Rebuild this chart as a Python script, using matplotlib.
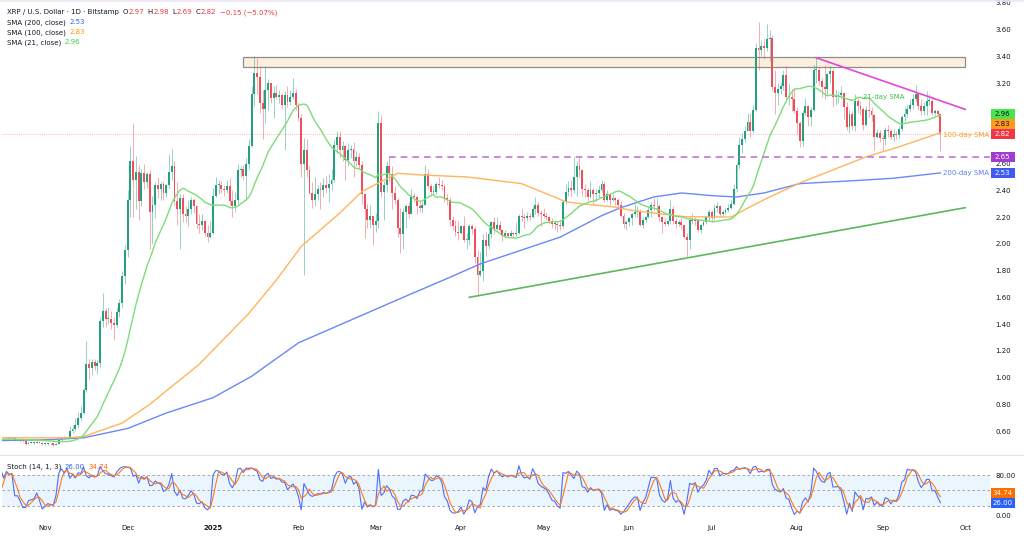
import numpy as np
import pandas as pd
import matplotlib
matplotlib.use("Agg")
import matplotlib.pyplot as plt
import matplotlib.dates as mdates
from matplotlib.patches import Rectangle
from matplotlib.lines import Line2D

plt.rcParams['font.family'] = ['DejaVu Sans']

W, H = 1024, 537

# ---------------- DATA (daily XRP/USD, Bitstamp) ----------------
first_open = 0.615
close_2024_10 = [0.610, 0.525, 0.520, 0.532, 0.536, 0.537, 0.530, 0.532, 0.527, 0.528, 0.539, 0.544, 0.537, 0.546, 0.540, 0.550,
                 0.545, 0.550, 0.548, 0.548, 0.532, 0.532, 0.528, 0.524, 0.505, 0.513, 0.514, 0.515, 0.522, 0.513, 0.503]
high_2024_10 = [0.645, 0.612, 0.535, 0.535, 0.540, 0.541, 0.545, 0.536, 0.537, 0.534, 0.543, 0.546, 0.546, 0.552, 0.555, 0.555,
                0.552, 0.554, 0.552, 0.552, 0.553, 0.536, 0.534, 0.532, 0.528, 0.516, 0.518, 0.518, 0.530, 0.525, 0.516]
low_2024_10 = [0.595, 0.505, 0.505, 0.518, 0.528, 0.530, 0.525, 0.524, 0.523, 0.517, 0.525, 0.535, 0.532, 0.533, 0.535, 0.540,
               0.540, 0.542, 0.544, 0.541, 0.528, 0.525, 0.520, 0.518, 0.495, 0.502, 0.508, 0.506, 0.512, 0.510, 0.500]

close_2024_11 = [0.506, 0.509, 0.508, 0.497, 0.506, 0.533, 0.545, 0.552, 0.559, 0.600, 0.615, 0.645, 0.700, 0.735, 0.905,
                 1.100, 1.070, 1.115, 1.085, 1.110, 1.420, 1.500, 1.440, 1.440, 1.410, 1.390, 1.490, 1.560, 1.760, 1.950]
high_2024_11 = [0.512, 0.513, 0.512, 0.510, 0.512, 0.542, 0.550, 0.565, 0.565, 0.640, 0.645, 0.700, 0.740, 0.785, 0.925,
                1.270, 1.140, 1.140, 1.140, 1.130, 1.450, 1.630, 1.520, 1.530, 1.500, 1.450, 1.530, 1.590, 1.800, 1.990]
low_2024_11 = [0.495, 0.500, 0.496, 0.487, 0.495, 0.505, 0.528, 0.540, 0.548, 0.555, 0.585, 0.600, 0.625, 0.680, 0.730,
               0.890, 0.990, 1.020, 1.060, 1.030, 1.080, 1.380, 1.380, 1.400, 1.360, 1.280, 1.380, 1.450, 1.520, 1.700]

close_2024_12 = [2.330, 2.620, 2.480, 2.540, 2.320, 2.530, 2.460, 2.520, 2.240, 2.290, 2.440, 2.410, 2.450, 2.380, 2.440, 2.540,
                 2.580, 2.320, 2.260, 2.340, 2.220, 2.210, 2.260, 2.330, 2.280, 2.150, 2.140, 2.170, 2.080, 2.050, 2.080]
high_2024_12 = [2.400, 2.730, 2.900, 2.660, 2.590, 2.560, 2.600, 2.540, 2.550, 2.360, 2.460, 2.500, 2.460, 2.470, 2.450, 2.670,
                2.710, 2.620, 2.460, 2.370, 2.370, 2.280, 2.330, 2.350, 2.340, 2.290, 2.220, 2.220, 2.180, 2.140, 2.170]
low_2024_12 = [1.900, 2.200, 2.200, 2.260, 2.180, 2.280, 2.410, 2.420, 1.960, 2.000, 2.190, 2.340, 2.330, 2.330, 2.350, 2.420,
               2.480, 2.290, 2.140, 1.960, 2.160, 2.160, 2.130, 2.220, 2.230, 2.120, 2.080, 2.100, 2.060, 2.010, 2.040]

close_2025_01 = [2.360, 2.440, 2.440, 2.410, 2.400, 2.430, 2.320, 2.280, 2.330, 2.550, 2.560, 2.510, 2.600, 2.730, 3.120, 3.280,
                 3.250, 3.050, 3.010, 3.150, 3.200, 3.090, 3.130, 3.100, 3.110, 3.040, 3.110, 3.060, 3.100, 3.130, 3.040]
high_2025_01 = [2.420, 2.500, 2.480, 2.470, 2.440, 2.480, 2.490, 2.400, 2.390, 2.600, 2.580, 2.590, 2.640, 2.780, 3.180, 3.400,
                3.390, 3.330, 3.150, 3.330, 3.230, 3.200, 3.180, 3.190, 3.150, 3.130, 3.140, 3.180, 3.150, 3.240, 3.160]
low_2025_01 = [2.070, 2.350, 2.370, 2.380, 2.360, 2.380, 2.290, 2.200, 2.240, 2.300, 2.500, 2.480, 2.330, 2.560, 2.720, 3.030,
               3.120, 2.980, 2.780, 2.900, 3.000, 3.050, 2.940, 3.080, 3.050, 3.010, 2.700, 3.020, 3.040, 3.080, 3.000]

close_2025_02 = [2.940, 2.600, 2.700, 2.550, 2.380, 2.330, 2.370, 2.410, 2.400, 2.440, 2.420, 2.450, 2.480, 2.740,
                 2.800, 2.700, 2.730, 2.630, 2.700, 2.710, 2.620, 2.650, 2.590, 2.370, 2.260, 2.180, 2.210, 2.140]
high_2025_02 = [3.060, 2.970, 2.790, 2.780, 2.580, 2.460, 2.500, 2.440, 2.460, 2.490, 2.510, 2.520, 2.560, 2.780,
                2.840, 2.840, 2.770, 2.740, 2.750, 2.740, 2.760, 2.690, 2.680, 2.620, 2.340, 2.300, 2.290, 2.200]
low_2025_02 = [2.920, 2.500, 1.770, 2.500, 2.370, 2.270, 2.280, 2.330, 2.260, 2.350, 2.380, 2.310, 2.400, 2.460,
               2.680, 2.650, 2.620, 2.480, 2.580, 2.640, 2.500, 2.580, 2.560, 2.300, 2.040, 2.120, 2.120, 1.990]

close_2025_03 = [2.170, 2.900, 2.390, 2.440, 2.580, 2.520, 2.380, 2.330, 2.120, 2.070, 2.240, 2.280, 2.220, 2.360, 2.350, 2.280,
                 2.270, 2.290, 2.520, 2.430, 2.390, 2.390, 2.450, 2.440, 2.430, 2.340, 2.330, 2.180, 2.130, 2.090, 2.080]
high_2025_03 = [2.230, 2.990, 2.960, 2.470, 2.620, 2.650, 2.580, 2.430, 2.340, 2.270, 2.270, 2.300, 2.310, 2.410, 2.380, 2.360,
                2.320, 2.310, 2.590, 2.560, 2.450, 2.430, 2.460, 2.500, 2.480, 2.450, 2.370, 2.350, 2.210, 2.180, 2.170]
low_2025_03 = [2.090, 2.120, 2.350, 2.180, 2.390, 2.460, 2.260, 2.300, 2.050, 1.930, 1.960, 2.120, 2.190, 2.220, 2.310, 2.220,
               2.240, 2.230, 2.290, 2.410, 2.360, 2.370, 2.370, 2.420, 2.400, 2.310, 2.290, 2.130, 2.100, 2.060, 2.030]

close_2025_04 = [2.130, 2.030, 2.030, 2.130, 2.110, 1.900, 1.770, 1.800, 2.030, 1.980, 2.070, 2.160, 2.110, 2.140, 2.100,
                 2.060, 2.080, 2.060, 2.080, 2.070, 2.080, 2.210, 2.200, 2.190, 2.210, 2.200, 2.260, 2.290, 2.230, 2.220]
high_2025_04 = [2.140, 2.210, 2.080, 2.150, 2.150, 2.130, 1.950, 1.940, 2.070, 2.090, 2.130, 2.170, 2.200, 2.200, 2.170,
                2.110, 2.100, 2.080, 2.100, 2.090, 2.160, 2.220, 2.270, 2.220, 2.240, 2.230, 2.280, 2.350, 2.310, 2.250]
low_2025_04 = [2.070, 2.010, 1.960, 1.990, 2.070, 1.860, 1.610, 1.760, 1.720, 1.910, 1.960, 2.040, 2.070, 2.100, 2.090,
               2.020, 2.040, 2.050, 2.060, 2.040, 2.060, 2.070, 2.170, 2.120, 2.170, 2.180, 2.190, 2.220, 2.210, 2.130]

close_2025_05 = [2.210, 2.200, 2.170, 2.150, 2.150, 2.140, 2.130, 2.310, 2.390, 2.420, 2.400, 2.500, 2.580, 2.550, 2.410, 2.400,
                 2.350, 2.400, 2.370, 2.380, 2.400, 2.450, 2.330, 2.370, 2.330, 2.340, 2.330, 2.290, 2.210, 2.150, 2.160]
high_2025_05 = [2.270, 2.240, 2.210, 2.190, 2.180, 2.160, 2.180, 2.330, 2.450, 2.470, 2.480, 2.650, 2.620, 2.650, 2.560, 2.450,
                2.420, 2.470, 2.420, 2.410, 2.440, 2.480, 2.470, 2.400, 2.380, 2.370, 2.350, 2.340, 2.320, 2.230, 2.180]
low_2025_05 = [2.190, 2.180, 2.150, 2.120, 2.110, 2.090, 2.100, 2.120, 2.300, 2.360, 2.360, 2.380, 2.360, 2.500, 2.360, 2.350,
               2.320, 2.340, 2.290, 2.320, 2.340, 2.390, 2.310, 2.320, 2.290, 2.320, 2.290, 2.260, 2.200, 2.120, 2.100]

close_2025_06 = [2.190, 2.220, 2.240, 2.240, 2.140, 2.180, 2.200, 2.250, 2.290, 2.280, 2.280, 2.200, 2.160, 2.150, 2.170,
                 2.260, 2.170, 2.150, 2.160, 2.140, 2.050, 2.030, 2.180, 2.170, 2.180, 2.100, 2.140, 2.160, 2.200, 2.240]
high_2025_06 = [2.200, 2.230, 2.300, 2.280, 2.260, 2.200, 2.210, 2.280, 2.310, 2.340, 2.340, 2.300, 2.210, 2.190, 2.180,
                2.330, 2.280, 2.190, 2.180, 2.200, 2.150, 2.080, 2.200, 2.230, 2.200, 2.180, 2.150, 2.170, 2.210, 2.260]
low_2025_06 = [2.130, 2.140, 2.200, 2.200, 2.130, 2.120, 2.160, 2.190, 2.200, 2.250, 2.240, 2.170, 2.080, 2.130, 2.130,
               2.150, 2.150, 2.120, 2.130, 2.110, 2.040, 1.900, 1.960, 2.150, 2.140, 2.090, 2.080, 2.130, 2.150, 2.170]

close_2025_07 = [2.190, 2.270, 2.280, 2.220, 2.240, 2.250, 2.270, 2.300, 2.410, 2.590, 2.740, 2.780, 2.840, 2.910, 2.840, 3.000,
                 3.460, 3.450, 3.480, 3.460, 3.530, 3.540, 3.170, 3.130, 3.160, 3.180, 3.260, 3.100, 3.100, 3.080, 2.990]
high_2025_07 = [2.250, 2.300, 2.310, 2.290, 2.250, 2.270, 2.300, 2.330, 2.450, 2.610, 2.800, 2.830, 2.880, 2.980, 2.980, 3.040,
                3.500, 3.660, 3.520, 3.530, 3.640, 3.600, 3.560, 3.300, 3.200, 3.210, 3.300, 3.330, 3.200, 3.160, 3.170]
low_2025_07 = [2.160, 2.180, 2.240, 2.200, 2.200, 2.220, 2.240, 2.260, 2.290, 2.390, 2.560, 2.680, 2.760, 2.840, 2.800, 2.830,
               2.990, 3.300, 3.400, 3.380, 3.440, 3.370, 3.140, 2.970, 3.040, 3.120, 3.150, 3.080, 3.040, 2.990, 2.980]

close_2025_08 = [2.900, 2.770, 2.980, 3.030, 2.950, 3.000, 3.300, 3.300, 3.220, 3.170, 3.160, 3.270, 3.290, 3.100, 3.100, 3.110,
                 3.130, 3.020, 2.870, 2.970, 2.880, 3.070, 3.030, 3.010, 2.890, 3.000, 2.990, 2.960, 2.800, 2.830, 2.790]
high_2025_08 = [3.020, 2.920, 3.000, 3.090, 3.040, 3.020, 3.340, 3.390, 3.320, 3.240, 3.340, 3.280, 3.330, 3.310, 3.160, 3.140,
                3.180, 3.130, 3.060, 3.000, 2.990, 3.120, 3.090, 3.070, 3.020, 3.030, 3.080, 3.020, 2.970, 2.860, 2.850]
low_2025_08 = [2.820, 2.720, 2.730, 2.960, 2.880, 2.880, 2.990, 3.200, 3.190, 3.100, 3.080, 3.110, 3.200, 3.020, 3.040, 3.050,
               3.080, 2.930, 2.850, 2.830, 2.850, 2.840, 2.980, 2.960, 2.850, 2.880, 2.950, 2.920, 2.700, 2.790, 2.760]

close_2025_09 = [2.780, 2.850, 2.840, 2.800, 2.820, 2.810, 2.860, 2.950, 2.970, 3.010, 3.040, 3.080, 3.120, 3.030, 2.990, 3.030,
                 3.070, 3.070, 2.980, 2.990, 2.970, 2.820]
high_2025_09 = [2.810, 2.870, 2.890, 2.860, 2.860, 2.840, 2.880, 2.960, 3.020, 3.040, 3.080, 3.120, 3.190, 3.120, 3.080, 3.060,
                3.140, 3.120, 3.090, 3.010, 3.000, 2.980]
low_2025_09 = [2.700, 2.740, 2.800, 2.780, 2.770, 2.780, 2.790, 2.840, 2.920, 2.950, 2.990, 3.010, 3.060, 3.000, 2.960, 2.960,
               2.960, 3.040, 2.960, 2.960, 2.950, 2.690]

# moving averages (value, date)
sma200_dates = ['2024-10-16', '2024-11-01', '2024-11-15', '2024-12-01', '2024-12-15', '2025-01-01', '2025-01-15',
                '2025-02-01', '2025-02-20', '2025-03-11', '2025-03-28', '2025-04-08', '2025-05-07', '2025-05-22',
                '2025-05-29', '2025-06-10', '2025-06-20', '2025-07-01', '2025-07-10', '2025-07-20', '2025-08-02',
                '2025-08-20', '2025-09-05', '2025-09-22']
sma200_vals = [0.53, 0.535, 0.55, 0.62, 0.735, 0.85, 1.01, 1.26, 1.43, 1.60, 1.75, 1.85, 2.05, 2.21,
               2.27, 2.35, 2.38, 2.36, 2.35, 2.38, 2.45, 2.47, 2.49, 2.53]
sma100_dates = ['2024-10-16', '2024-11-09', '2024-11-15', '2024-11-29', '2024-12-09', '2024-12-27', '2025-01-14',
                '2025-01-24', '2025-02-02', '2025-02-16', '2025-02-24', '2025-03-03', '2025-03-09', '2025-03-17',
                '2025-04-03', '2025-04-23', '2025-05-09', '2025-05-15', '2025-05-26', '2025-06-02', '2025-06-21',
                '2025-07-08', '2025-07-15', '2025-07-21', '2025-08-02', '2025-08-26', '2025-09-07', '2025-09-22']
sma100_vals = [0.55, 0.55, 0.56, 0.66, 0.80, 1.10, 1.48, 1.73, 1.98, 2.23, 2.39, 2.465, 2.527, 2.515,
               2.50, 2.45, 2.315, 2.298, 2.277, 2.25, 2.203, 2.20, 2.277, 2.34, 2.455, 2.65, 2.725, 2.83]

# chart annotations
zone_dates = ['2025-01-12', '2025-10-01']
zone_prices = [3.32, 3.395]
down_trend_dates = ['2025-08-08', '2025-10-01']
down_trend_prices = [3.39, 3.005]
up_trend_dates = ['2025-04-04', '2025-10-01']
up_trend_prices = [1.60, 2.27]
hline_start = '2025-03-06'
hline_price = 2.65
last_price = 2.82
legend_ohlc = ['2.97', '2.98', '2.69', '2.82']
legend_change = '\u22120.15 (\u22125.07%)'
sma_last = {'200': 2.53, '100': 2.83, '21': 2.96}
stoch_last = {'k': 26.00, 'd': 34.74}
month_labels = ['Nov', 'Dec', '2025', 'Feb', 'Mar', 'Apr', 'May', 'Jun', 'Jul', 'Aug', 'Sep', 'Oct']
price_ticks = [0.6, 0.8, 1.0, 1.2, 1.4, 1.6, 1.8, 2.0, 2.2, 2.4, 2.6, 2.8, 3.0, 3.2, 3.4, 3.6, 3.8]

# ---------------- assemble ----------------
close = np.array(close_2024_10 + close_2024_11 + close_2024_12 + close_2025_01 + close_2025_02 + close_2025_03 +
                 close_2025_04 + close_2025_05 + close_2025_06 + close_2025_07 + close_2025_08 + close_2025_09)
high = np.array(high_2024_10 + high_2024_11 + high_2024_12 + high_2025_01 + high_2025_02 + high_2025_03 +
                high_2025_04 + high_2025_05 + high_2025_06 + high_2025_07 + high_2025_08 + high_2025_09)
low = np.array(low_2024_10 + low_2024_11 + low_2024_12 + low_2025_01 + low_2025_02 + low_2025_03 +
               low_2025_04 + low_2025_05 + low_2025_06 + low_2025_07 + low_2025_08 + low_2025_09)
opn = np.concatenate([[first_open], close[:-1]])
dates = pd.date_range('2024-10-01', periods=len(close), freq='D')
xd = mdates.date2num(dates)

sma21 = pd.Series(close).rolling(21, min_periods=1).mean().values
hh = pd.Series(high).rolling(14, min_periods=1).max().values
ll = pd.Series(low).rolling(14, min_periods=1).min().values
stoch_k = 100 * (close - ll) / np.where(hh - ll == 0, np.nan, hh - ll)
stoch_d = pd.Series(stoch_k).rolling(3, min_periods=1).mean().values

# ---------------- figure ----------------
fig = plt.figure(figsize=(W / 100, H / 100), dpi=100)
fig.patch.set_facecolor('white')

def fx(px):
    return px / W

def fy(py):
    return 1 - py / H

X_LEFT, X_RIGHT = 2, 990
ax = fig.add_axes([fx(X_LEFT), fy(454), (X_RIGHT - X_LEFT) / W, (454 - 1) / H])
ax2 = fig.add_axes([fx(X_LEFT), fy(521), (X_RIGHT - X_LEFT) / W, (521 - 456) / H])

nov1 = mdates.date2num(pd.Timestamp('2024-11-01'))
px_per_day = 2.755
ax_xmin = nov1 + (X_LEFT - 45) / px_per_day
ax_xmax = nov1 + (X_RIGHT - 45) / px_per_day

UP, DN = '#22a07f', '#ef4f5a'
cols = np.where(close >= opn, UP, DN)
ax.vlines(xd, low, high, colors=cols, lw=0.6, alpha=0.55, zorder=2)
body_b = np.minimum(opn, close)
body_h = np.maximum(np.abs(close - opn), 0.006)
ax.bar(xd, body_h, bottom=body_b, width=0.68, color=cols, lw=0, zorder=2.5)

ax.plot(mdates.date2num(pd.to_datetime(sma200_dates)), sma200_vals, color='#6a88f7', lw=1.0, zorder=3)
ax.plot(mdates.date2num(pd.to_datetime(sma100_dates)), sma100_vals, color='#ffb45e', lw=1.0, zorder=3)
ax.plot(xd, sma21, color='#7fdc78', lw=1.0, zorder=3)

zx = mdates.date2num(pd.to_datetime(zone_dates))
ax.add_patch(Rectangle((zx[0], zone_prices[0]), zx[1] - zx[0], zone_prices[1] - zone_prices[0],
                       facecolor='#fdefdd', edgecolor='#8d8d8d', lw=0.9, zorder=1.5))
ax.plot(mdates.date2num(pd.to_datetime(down_trend_dates)), down_trend_prices, color='#e246db', lw=1.2, zorder=3.5)
ax.plot(mdates.date2num(pd.to_datetime(up_trend_dates)), up_trend_prices, color='#5cb85c', lw=1.2, zorder=3.5)
ax.plot([mdates.date2num(pd.Timestamp(hline_start)), ax_xmax], [hline_price, hline_price],
        color='#c774dc', lw=1.2, ls=(0, (4, 3)), zorder=3.5)
ax.axhline(last_price, color='#f7525f', lw=0.6, ls=(0, (1, 1.5)), alpha=0.55, zorder=1.8)

ax.text(mdates.date2num(pd.Timestamp('2025-09-01 08:00')), 3.10, '21-day SMA', color='#3fbf47', fontsize=5,
        ha='center', va='center', zorder=4)
ax.text(mdates.date2num(pd.Timestamp('2025-09-22 20:00')), 2.813, '100-day SMA', color='#ff9a1f', fontsize=5,
        ha='left', va='center', zorder=4)
ax.text(mdates.date2num(pd.Timestamp('2025-09-22 20:00')), 2.532, '200-day SMA', color='#5b7cfa', fontsize=5,
        ha='left', va='center', zorder=4)

ax.set_xlim(ax_xmin, ax_xmax)
ax.set_ylim(3.66 - (454 - 21.7) / 133.8, 3.66 + (21.7 - 1) / 133.8)
ax.yaxis.tick_right()
ax.set_yticks(price_ticks)
ax.set_yticklabels([f'{v:.2f}' for v in price_ticks])
ax.tick_params(axis='y', length=0, pad=4, labelsize=5, labelcolor='#131722')
ax.set_xticks([])
for s in ax.spines.values():
    s.set_visible(False)

# stochastic
ax2.axhspan(20, 80, color='#2196f3', alpha=0.09, lw=0, zorder=1)
for lv in (80, 50, 20):
    ax2.axhline(lv, color='#9598a1', lw=0.6, ls=(0, (3, 3)), zorder=1.5)
ax2.plot(xd, stoch_k, color='#4e6ff7', lw=0.8, zorder=3)
ax2.plot(xd, stoch_d, color='#ff7a1a', lw=0.8, zorder=3)
ax2.set_xlim(ax_xmin, ax_xmax)
ax2.set_ylim((516 - 521) / 0.5125, (516 - 456) / 0.5125)
ax2.yaxis.tick_right()
ax2.set_yticks([0, 80])
ax2.set_yticklabels(['0.00', '80.00'])
ax2.tick_params(axis='y', length=0, pad=4, labelsize=5, labelcolor='#131722')
month_starts = pd.date_range('2024-11-01', '2025-10-01', freq='MS')
ax2.set_xticks(mdates.date2num(month_starts))
ax2.set_xticklabels(month_labels)
ax2.tick_params(axis='x', length=0, pad=3, labelsize=5, labelcolor='#131722')
for lab in ax2.get_xticklabels():
    if lab.get_text() == '2025':
        lab.set_fontweight('bold')
for s in ax2.spines.values():
    s.set_visible(False)

# pane separator and top border
fig.add_artist(Line2D([0, 1], [fy(455), fy(455)], color='#e0e3eb', lw=0.8))
fig.add_artist(Line2D([0, 1], [fy(1), fy(1)], color='#efe4f6', lw=1.2))

fig.canvas.draw()
renderer = fig.canvas.get_renderer()

def run_text(xpx, ypx, parts, size=5):
    x = xpx
    for txt, col, gap, weight in parts:
        x += gap
        t = fig.text(fx(x), fy(ypx), txt, color=col, fontsize=size, ha='left', va='center', fontweight=weight)
        x += t.get_window_extent(renderer).width

DK, RD = '#131722', '#f23645'
run_text(7, 12.3, [('XRP / U.S. Dollar \u00b7 1D \u00b7 Bitstamp', DK, 0, 'normal'),
                   ('O', DK, 3.5, 'normal'), (legend_ohlc[0], RD, 0.5, 'normal'),
                   ('H', DK, 3.5, 'normal'), (legend_ohlc[1], RD, 0.5, 'normal'),
                   ('L', DK, 3.5, 'normal'), (legend_ohlc[2], RD, 0.5, 'normal'),
                   ('C', DK, 3.5, 'normal'), (legend_ohlc[3], RD, 0.5, 'normal'),
                   (legend_change, RD, 3.5, 'normal')])
run_text(7, 22.3, [('SMA (200, close)', DK, 0, 'normal'), (f"{sma_last['200']:.2f}", '#2962ff', 3.5, 'normal')])
run_text(7, 32.3, [('SMA (100, close)', DK, 0, 'normal'), (f"{sma_last['100']:.2f}", '#ff9800', 3.5, 'normal')])
run_text(7, 42.3, [('SMA (21, close)', DK, 0, 'normal'), (f"{sma_last['21']:.2f}", '#3fcf3f', 3.5, 'normal')])
run_text(7, 467, [('Stoch (14, 1, 3)', DK, 0, 'normal'), (f"{stoch_last['k']:.2f}", '#2962ff', 3.5, 'normal'),
                  (f"{stoch_last['d']:.2f}", '#ff6d00', 3.5, 'normal')])

def value_px(axis, val):
    return H - axis.transData.transform((axis.get_xlim()[0], val))[1]

def draw_boxes(axis, items, bh=10.0):
    centers = []
    items = sorted(items, key=lambda it: -value_px(axis, it[0]))
    prev = None
    for val, txt, bg, fg in items:
        y = value_px(axis, val)
        if prev is not None and y > prev - bh:
            y = prev - bh
        prev = y
        centers.append(y)
        fig.add_artist(Rectangle((fx(990.5), fy(y + bh / 2)), 24 / W, bh / H, transform=fig.transFigure,
                                 facecolor=bg, edgecolor='none', zorder=10))
        fig.text(fx(1002.5), fy(y), txt, color=fg, fontsize=5, ha='center', va='center', zorder=11)
    # tick labels hidden behind the value boxes (as on the reference's price scale)
    for tick_val, lab in zip(axis.get_yticks(), axis.get_yticklabels()):
        ty = value_px(axis, tick_val)
        if any(abs(ty - c) < bh / 2 + 1 for c in centers):
            lab.set_visible(False)

draw_boxes(ax, [(sma_last['21'], f"{sma_last['21']:.2f}", '#4ce44c', DK),
                (sma_last['100'], f"{sma_last['100']:.2f}", '#ff9a1f', DK),
                (last_price, f"{last_price:.2f}", '#f23645', 'white'),
                (hline_price, f"{hline_price:.2f}", '#a23ccf', 'white'),
                (sma_last['200'], f"{sma_last['200']:.2f}", '#3d5cf5', 'white')])
draw_boxes(ax2, [(stoch_last['d'], f"{stoch_last['d']:.2f}", '#ff6d00', 'white'),
                 (stoch_last['k'], f"{stoch_last['k']:.2f}", '#2962ff', 'white')])

fig.savefig('out.png', dpi=100, facecolor='white')
